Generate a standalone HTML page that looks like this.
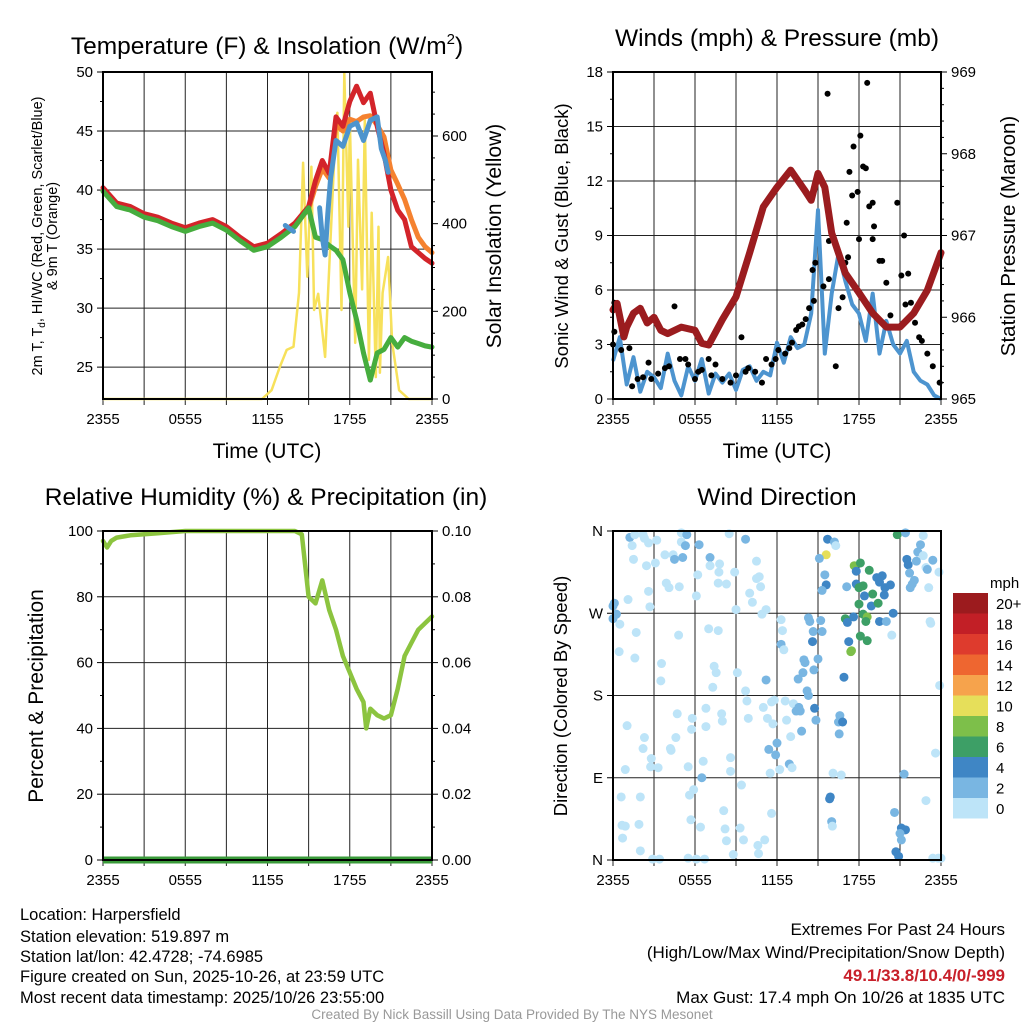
<!DOCTYPE html>
<html><head><meta charset="utf-8"><style>
body{margin:0;background:#fff}
svg{display:block;font-family:"Liberation Sans",Arial,sans-serif}
</style></head><body>
<svg id="s" width="1024" height="1024" viewBox="0 0 1024 1024" xmlns="http://www.w3.org/2000/svg">
<rect width="1024" height="1024" fill="#fff"/>
<g font-size="24.5" text-anchor="middle" fill="#000">
<text x="267" y="54">Temperature (F) &amp; Insolation (W/m<tspan font-size="15" dy="-10">2</tspan><tspan dy="10">)</tspan></text>
<text x="777" y="46">Winds (mph) &amp; Pressure (mb)</text>
<text x="266" y="505">Relative Humidity (%) &amp; Precipitation (in)</text>
<text x="777" y="505">Wind Direction</text>
</g>
<g font-size="21" text-anchor="middle">
<text x="267" y="458">Time (UTC)</text>
<text x="777" y="458">Time (UTC)</text>
<text transform="translate(501,236) rotate(-90)">Solar Insolation (Yellow)</text>
<text font-size="18.5" transform="translate(568,236) rotate(-90)">Sonic Wind &amp; Gust (Blue, Black)</text>
<text font-size="20.5" transform="translate(1015,236) rotate(-90)">Station Pressure (Maroon)</text>
<text transform="translate(43,696) rotate(-90)">Percent &amp; Precipitation</text>
<text font-size="18.5" transform="translate(567,696) rotate(-90)">Direction (Colored By Speed)</text>
<text font-size="14.5" transform="translate(42,236) rotate(-90)">2m T, T<tspan font-size="10" dy="3">d</tspan><tspan dy="-3">, HI/WC (Red, Green, Scarlet/Blue)</tspan></text>
<text font-size="14.5" transform="translate(57,236) rotate(-90)">&amp; 9m T (Orange)</text>
</g>
<g id="plots"></g>
<g font-size="16.5" fill="#000">
<text x="20" y="920">Location: Harpersfield</text>
<text x="20" y="942">Station elevation: 519.897 m</text>
<text x="20" y="962">Station lat/lon: 42.4728; -74.6985</text>
<text x="20" y="982">Figure created on Sun, 2025-10-26, at 23:59 UTC</text>
<text x="20" y="1003">Most recent data timestamp: 2025/10/26 23:55:00</text>
<g text-anchor="end" font-size="17">
<text x="1005" y="935">Extremes For Past 24 Hours</text>
<text x="1005" y="958">(High/Low/Max Wind/Precipitation/Snow Depth)</text>
<text x="1005" y="981" fill="#c8202a" font-weight="bold">49.1/33.8/10.4/0/-999</text>
<text x="1005" y="1003">Max Gust: 17.4 mph On 10/26 at 1835 UTC</text>
</g>
<text x="512" y="1019" font-size="13.5" fill="#999" text-anchor="middle">Created By Nick Bassill Using Data Provided By The NYS Mesonet</text>
</g>
</svg>
<script>
const timeTicks=["2355","0555","1155","1755","2355"];
// temperature
const tHours=[0,1,2,3,4,5,6,7,8,9,10,11,12,13,14,15,15.5,16,16.5,17,17.5,18,18.5,19,19.5,20,20.5,21,21.5,22,22.5,23,23.5,24];
const tRed=[40.2,38.9,38.6,38.0,37.7,37.2,36.8,37.2,37.5,36.9,36.0,35.2,35.5,36.3,37.2,38.6,40.8,42.5,41.4,46.2,45.4,47.5,48.8,47.4,48.2,45.4,43.1,40.0,38.3,37.5,35.2,34.7,34.2,33.8];
const tOrange=[40.0,38.7,38.4,37.8,37.5,37.0,36.6,37.0,37.3,36.7,35.8,35.0,35.3,36.1,37.0,38.4,40.3,41.8,41.0,45.5,45.0,46.0,45.8,46.2,46.3,45.5,44.5,41.7,40.5,39.2,37.5,36.0,35.2,34.7];
const tGreen=[39.9,38.6,38.3,37.7,37.4,36.9,36.5,36.9,37.2,36.6,35.7,34.9,35.2,36.0,36.9,38.5,36.0,35.8,35.3,34.9,34.1,31.3,29.0,26.2,23.9,26.2,26.5,27.5,26.7,27.5,27.2,27.0,26.8,26.7];
const hiHours=[13.3,13.9,15.6,15.8,16,16.2,16.4,16.6,17,17.5,18,18.5,19,19.5,20,20.3,20.6,20.8];
const hiVals=[37.0,36.5,null,38.5,36.0,34.5,38.0,41.0,44.2,43.7,45.4,45.7,44.2,45.9,46.2,43.5,42.5,41.5];
const solarHours=[0,11.6,12.3,12.9,13.4,13.9,14.3,14.6,14.9,15.2,15.4,15.7,16.2,16.7,17.0,17.1,17.4,17.6,17.9,18.0,18.4,18.6,18.9,19.1,19.4,19.6,19.9,20.1,20.2,20.4,20.8,21.1,21.6,22.3,24];
const solarVals=[0,0,20,73,112,119,242,539,279,530,203,240,96,432,637,653,203,744,393,637,128,546,250,637,89,425,50,393,60,242,324,128,20,0,0];
// winds
const wHours=[0,0.5,1,1.5,2,2.5,3,3.5,4,4.5,5,5.5,6,6.5,7,7.5,8,8.5,9,9.5,10,10.5,11,11.5,12,12.5,13,13.5,14,14.5,15,15.5,16,16.5,17,17.5,18,18.5,19,19.5,20,20.5,21,21.5,22,22.5,23,23.5,24];
const wSpeed=[2.1,3.4,0.8,2.3,0.4,1.5,1.2,0.6,2.5,1.0,0.2,1.8,1.0,2.2,0.3,1.4,0.9,1.4,0.5,1.6,1.8,1.0,1.5,1.3,3.1,2.0,3.4,2.8,3.0,4.7,10.4,2.5,5.8,8.0,6.5,5.2,4.7,3.2,5.8,2.5,4.3,3.0,2.5,3.2,1.5,1.0,0.8,0.2,0.0];
const gHours=[0.1,0.1,0,0.6,1.2,1.8,2.6,2.8,3.3,3.8,4.1,4.5,4.9,5.5,5.3,6.0,6.25,6.5,7.0,7.5,7.2,8.0,8.6,9.0,9.4,9.7,9.9,10.4,10.9,11.2,11.6,11.9,12.1,12.6,12.9,13.1,13.4,13.6,13.85,14.1,14.35,14.6,14.8,14.7,15.4,15.7,15.8,15.8,16.3,16.5,16.8,16.9,17.0,17.1,17.2,17.3,17.5,17.6,17.9,18.0,18.1,18.3,18.5,18.6,18.75,19.0,19.1,19.0,19.5,19.7,20.0,20.3,20.8,21.1,21.3,21.4,21.6,21.8,22.1,22.4,22.6,23.0,23.4,23.9,1.4,2.2];
const gSpeed=[5.3,3.7,3.0,2.7,2.8,1.1,2.0,1.1,1.4,1.7,1.8,5.1,2.2,1.9,2.2,1.1,1.5,1.6,2.2,1.9,1.3,1.1,0.9,1.3,3.4,1.5,1.7,1.5,0.9,2.2,1.9,2.2,2.7,2.5,2.8,3.1,3.8,4.0,4.1,4.4,5.0,7.1,7.5,5.4,6.2,16.8,8.7,6.6,1.8,5.0,5.6,7.2,7.5,9.7,7.8,12.5,11.2,13.9,11.4,8.8,14.5,12.8,12.7,17.4,10.6,8.8,9.5,10.8,7.6,7.6,6.4,4.6,10.8,6.8,9.0,5.2,6.9,5.3,4.2,3.4,3.2,2.5,1.8,0.9,0.7,1.2];
const pHours=[0,0.3,0.8,1,1.5,2,2.5,3,3.5,4,5,6,6.5,7,8,9,10,11,12,13,14,14.5,15,15.5,16,17,18,19,20,21,22,23,24];
const pVals=[966.09,966.17,965.76,965.88,966.05,966.11,965.93,966.0,965.84,965.80,965.88,965.84,965.68,965.66,965.97,966.25,966.79,967.35,967.59,967.80,967.56,967.43,967.76,967.59,967.03,966.54,966.30,966.05,965.88,965.88,966.05,966.33,966.79];
// RH
const rhHours=[0,0.3,0.6,1,2,3,4,6,8,10,12,14,14.5,15,15.5,16,16.5,17,17.5,18,18.5,19,19.2,19.5,20,20.5,21,21.5,22,22.5,23,24];
const rhVals=[97,95,97,98,98.7,99,99.3,100,100,100,100,100,99,80,78,85,76,70,62,57,52,48,40,46,44,43,44,52,62,66,70,74];
// wind direction dots: hour, degrees, speed
const dHours=[1.23,1.6,2.2,2.3,1.4,3.2,2.6,1.5,2.45,3.1,3.8,4.4,4.5,5.1,5.0,5.4,5.0,5.3,6.3,7.1,7.1,7.8,7.75,8.5,9.7,8.9,6.2,7.7,8.3,10.5,10.7,10.5,10.8,10.0,10.2,11.2,9.0,6.1,3.9,4.1,4.85,2.6,2.7,1.1,0.1,0,0.25,0,0.5,1.7,0.45,1.6,3.55,3.5,4.8,7.0,7.7,7.4,7.55,7.3,9.1,9.7,9.8,10.9,12.3,12.4,12.3,12.5,11.2,11.0,11.6,11.8,12.6,13.2,12.7,13.0,13.7,13.6,13.4,13.8,14.2,14.3,13.55,13.9,13.97,14.05,14.7,15.0,14.3,14.4,14.65,15.2,15.3,14.6,14.75,14.85,12.0,11.9,11.4,12.9,12.2,11.5,13.1,16.6,16.5,16.8,16.55,16.9,16.1,16.7,15.9,15.85,16.0,16.05,15.7,16.2,16.3,15.6,15.1,15.5,15.6,15.3,17.1,17.65,18.1,17.8,18.75,17.8,18.3,18.0,19.0,18.4,18.0,18.9,19.3,19.7,19.5,19.9,20.3,19.85,19.4,20.5,18.3,18.6,17.6,17.0,17.15,18.5,19.5,20.0,20.4,18.1,18.6,17.25,17.45,17.4,20.8,21.4,22.7,22.3,22.5,22.7,21.5,21.6,22.2,23.4,22.9,23.0,21.7,22.05,21.9,21.75,23.1,23.85,23.2,23.25,23.9,23.6,22.9,21.3,20.6,21.1,21.4,21.0,21.1,20.7,20.9,23.4,23.8,24.0,1.03,2.3,2.2,2.8,2.75,3.3,0.9,4.2,4.25,4.6,4.7,5.8,5.75,6.8,6.8,7.95,8.0,9.9,11.3,11.7,8.6,8.6,6.6,5.5,6.5,5.9,5.6,9.4,11.6,8.1,8.2,8.3,9.3,9.55,10.6,10.65,11.1,8.8,5.7,6.4,5.5,6.1,6.7,2.9,3.4,2.0,0.7,0.66,0.9,1.9,0.6,2.0];
const dDegs=[353,356,356,352,344,350,347,329,322,325,334,334,329,331,358,356,348,344,345,331,322,324,315,357,351,315,312,303,302,327,310,308,299,292,282,274,274,289,303,298,299,294,277,285,281,278,269,264,258,249,228,221,215,196,246,253,251,212,205,189,205,185,174,269,263,251,236,230,197,167,173,175,174,171,153,135,163,167,163,141,185,180,198,205,219,216,208,220,265,261,250,262,250,239,166,153,128,115,121,105,99,95,101,158,151,151,138,200,95,93,69,67,42,37,351,348,344,334,330,312,301,295,299,322,325,316,317,302,300,298,291,289,280,278,309,311,304,298,301,290,281,270,269,266,266,264,260,261,261,261,246,245,240,239,229,228,356,358,355,337,345,333,329,323,327,328,320,318,314,306,302,298,298,315,261,259,191,117,65,94,52,35,33,29,22,9,4,2,2,2,147,134,122,111,102,101,99,122,120,134,160,155,143,146,166,160,152,155,155,149,112,97,108,102,90,77,71,82,51,54,34,21,35,22,16,7,22,6,44,36,2,1,1,1,1,10,24,38,37,39,69,69];
const dSpeed=[3,1,1,1,1,1,1,1,1,1,1,1,3,3,1,3,1,3,3,3,1,1,1,1,3,1,1,1,1,1,1,1,1,1,1,1,1,1,1,1,1,1,1,1,3,3,3,3,1,1,1,1,1,1,1,1,1,1,1,1,1,1,1,1,1,1,3,1,3,1,1,1,1,1,1,1,3,3,3,3,3,3,3,3,3,3,3,3,3,3,3,3,3,5,5,3,3,3,3,3,1,1,1,3,3,5,3,5,1,1,5,5,3,1,5,3,1,11,3,3,5,3,3,9,7,5,7,5,7,7,7,5,7,5,5,5,5,5,5,5,7,5,7,9,5,7,5,7,5,3,1,7,7,5,9,9,7,3,1,3,3,1,5,5,3,3,1,3,3,3,3,3,1,1,1,1,1,1,1,3,3,5,5,3,3,5,5,1,1,1,1,1,1,1,1,1,1,1,1,1,1,1,1,1,1,1,1,1,1,1,1,1,1,1,3,1,1,1,1,1,1,1,1,1,1,1,1,1,1,1,1,1,1,1,1,1,1,1,1,1,1,1,1,1];
const cbLabels=["20+","18","16","14","12","10","8","6","4","2","0"];
const cbColors=["#9c1b1e","#c21f26","#de3b2d","#ee6630","#f6a34c","#e6df5a","#7dbf4a","#3d9f66","#3f86c5","#79b6e2","#bde4f8"];

const NS="http://www.w3.org/2000/svg";
const root=document.getElementById('plots');
function mk(tag,attrs,parent){const e=document.createElementNS(NS,tag);for(const k in attrs)e.setAttribute(k,attrs[k]);(parent||root).appendChild(e);return e;}
function txt(str,x,y,anchor,size,parent){const t=mk('text',{x:x,y:y,'text-anchor':anchor,'font-size':size||15},parent);t.textContent=str;return t;}
function lin(d0,d1,r0,r1){return v=>r0+(v-d0)/(d1-d0)*(r1-r0);}
function pathOf(xs,ys,fx,fy){let d='',pen=false;for(let i=0;i<xs.length;i++){if(ys[i]==null){pen=false;continue;}d+=(pen?'L':'M')+fx(xs[i]).toFixed(1)+' '+fy(ys[i]).toFixed(1);pen=true;}return d;}

function frame(g,x0,x1,y0,y1){
  for(let h=0;h<=24;h+=3){const X=lin(0,24,x0,x1)(h);
    const l=mk('line',{x1:X,x2:X,y1:y0,y2:y1+6,stroke:'#222','stroke-width':1},g);
    
    }
  timeTicks.forEach((s,i)=>{const X=lin(0,4,x0,x1)(i);const t=txt(s,X,y1+25,'middle',15,g);
    
    });
}
function border(g,x0,x1,y0,y1){const r=mk('rect',{x:x0,y:y0,width:x1-x0,height:y1-y0,fill:'none',stroke:'#000','stroke-width':2},g);
  
  }
function yAxis(g,vals,labels,fy,x0,x1,side,grid,minor){
  vals.forEach((v,i)=>{const Y=fy(v);
    if(grid){const l=mk('line',{x1:x0,x2:x1,y1:Y,y2:Y,stroke:'#222','stroke-width':1},g);
      
      }
    const tx=side==='L'?x0:x1;
    mk('line',{x1:tx,x2:side==='L'?tx-6:tx+6,y1:Y,y2:Y,stroke:'#000','stroke-width':1},g);
    const t=txt(labels[i],side==='L'?x0-10:x1+10,Y+5,side==='L'?'end':'start',15,g);
    
    });
  (minor||[]).forEach(v=>{const Y=fy(v);const tx=side==='L'?x0:x1;mk('line',{x1:tx,x2:side==='L'?tx-3:tx+3,y1:Y,y2:Y,stroke:'#000','stroke-width':1},g);});
}

// ---- Panel 1
(function(){
  const x0=103,x1=432,y0=72,y1=399;
  const g=mk('g',{});
  
  
  const fx=lin(0,24,x0,x1), fy=lin(50,22.3,y0,y1), fs=lin(0,746,y1,y0);
  frame(g,x0,x1,y0,y1);
  yAxis(g,[25,30,35,40,45,50],['25','30','35','40','45','50'],fy,x0,x1,'L',true,[27.5,32.5,37.5,42.5,47.5]);
  yAxis(g,[0,200,400,600],['0','200','400','600'],fs,x0,x1,'R',false,[50,100,150,250,300,350,450,500,550,650,700]);
  const sol=mk('path',{d:pathOf(solarHours,solarVals,fx,fs),fill:'none',stroke:'#f7e15b','stroke-width':2.5,'stroke-linejoin':'round'},g);
  
  
  [[tOrange,'#f58230','orange-9m-temp-line'],[tRed,'#d3242a','red-2m-temp-line'],[tGreen,'#46ad3e','green-dewpoint-line']].forEach(([vals,c,n])=>{
    const p=mk('path',{d:pathOf(tHours,vals,fx,fy),fill:'none',stroke:c,'stroke-width':5,'stroke-linejoin':'round','stroke-linecap':'round'},g);
    
    });
  const b=mk('path',{d:pathOf(hiHours,hiVals,fx,fy),fill:'none',stroke:'#4d94cd','stroke-width':5,'stroke-linejoin':'round','stroke-linecap':'round'},g);
  
  
  border(g,x0,x1,y0,y1);
})();

// ---- Panel 2
(function(){
  const x0=613,x1=941,y0=72,y1=399;
  const g=mk('g',{});
  
  
  const fx=lin(0,24,x0,x1), fy=lin(0,18,y1,y0), fp=lin(965,969,y1,y0);
  frame(g,x0,x1,y0,y1);
  yAxis(g,[0,3,6,9,12,15,18],['0','3','6','9','12','15','18'],fy,x0,x1,'L',true,[1.5,4.5,7.5,10.5,13.5,16.5]);
  const mn=[];for(let v=965.2;v<969;v+=0.2){if(Math.abs(v-Math.round(v))>0.05)mn.push(v);}
  yAxis(g,[965,966,967,968,969],['965','966','967','968','969'],fp,x0,x1,'R',false,mn);
  const w=mk('path',{d:pathOf(wHours,wSpeed,fx,fy),fill:'none',stroke:'#4d94cf','stroke-width':4,'stroke-linejoin':'round'},g);
  
  
  gHours.forEach((h,i)=>{const c=mk('circle',{cx:fx(h),cy:fy(gSpeed[i]),r:3,fill:'#000'},g);
    
    });
  const p=mk('path',{d:pathOf(pHours,pVals,fx,fp),fill:'none',stroke:'#9b1c1f','stroke-width':7,'stroke-linejoin':'round','stroke-linecap':'round'},g);
  
  
  border(g,x0,x1,y0,y1);
})();

// ---- Panel 3
(function(){
  const x0=103,x1=432,y0=531,y1=860;
  const g=mk('g',{});
  
  
  const fx=lin(0,24,x0,x1), fy=lin(0,100,y1,y0);
  frame(g,x0,x1,y0,y1);
  yAxis(g,[0,20,40,60,80,100],['0','20','40','60','80','100'],fy,x0,x1,'L',true,[10,30,50,70,90]);
  yAxis(g,[0,20,40,60,80,100],['0.00','0.02','0.04','0.06','0.08','0.10'],fy,x0,x1,'R',false,[10,30,50,70,90]);
  const r=mk('path',{d:pathOf(rhHours,rhVals,fx,fy),fill:'none',stroke:'#8cc43f','stroke-width':4.5,'stroke-linejoin':'round','stroke-linecap':'round'},g);
  
  
  const pr=mk('line',{x1:x0,x2:x1,y1:fy(0),y2:fy(0),stroke:'#3a9a3a','stroke-width':7},g);
  
  
  border(g,x0,x1,y0,y1);
})();

// ---- Panel 4
(function(){
  const x0=613,x1=941,y0=531,y1=860;
  const g=mk('g',{});
  
  
  const fx=lin(0,24,x0,x1), fy=lin(0,360,y1,y0);
  frame(g,x0,x1,y0,y1);
  yAxis(g,[0,90,180,270,360],['N','E','S','W','N'],fy,x0,x1,'L',true,[]);
  function col(s){const idx=Math.min(10,Math.floor(s/2));return cbColors[10-idx];}
  dHours.forEach((h,i)=>{const c=mk('circle',{cx:fx(h),cy:fy(dDegs[i]),r:4.5,fill:col(dSpeed[i])},g);
    
    });
  border(g,x0,x1,y0,y1);
  const cb=mk('g',{});
  
  
  txt('mph',990,588,'start',15,cb);
  cbLabels.forEach((l,i)=>{const Y=593+i*20.5;
    const r=mk('rect',{x:953,y:Y,width:35,height:20.5,fill:cbColors[i]},cb);
    
    
    txt(l,996,Y+16,'start',15,cb);});
})();
</script>
</body></html>
